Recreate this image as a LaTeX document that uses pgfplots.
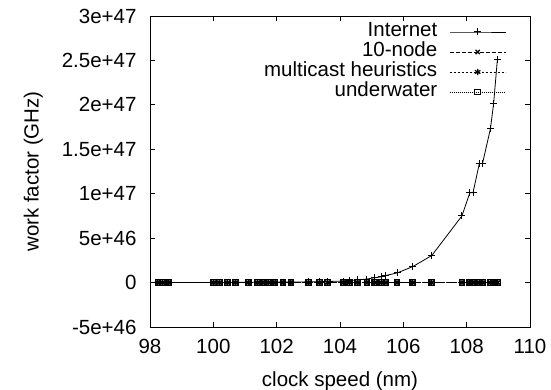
\documentclass[border=0pt]{standalone}
\usepackage{pgfplots}
\pgfplotsset{compat=1.18}
\usepackage{pgfplotstable}
\usepackage{fontspec}
\setmainfont{Liberation Sans}
\usetikzlibrary{calc}

\pgfplotstableread{
x y
98.25 1e43
98.4 1.2e43
98.6 1.5e43
100.0 1e44
100.2 1.2e44
100.45 1.5e44
100.7 2e44
101.1 2.5e44
101.4 3e44
101.6 3.5e44
101.75 4e44
101.95 4.5e44
102.2 5e44
102.45 6e44
103.0 8e44
103.35 1e45
103.6 1.2e45
104.1 1.7e45
104.3 2.2e45
104.55 3e45
104.85 4e45
105.1 5.5e45
105.3 6.4e45
105.45 8e45
105.8 1.08e46
106.3 1.8e46
106.9 3.05e46
107.85 7.5e46
108.1 1.01e47
108.2 1.01e47
108.4 1.34e47
108.5 1.34e47
108.75 1.73e47
108.85 2.01e47
108.97 2.51e47
}\internet

\pgfplotstableread{
x y
98.25 0
98.4 0
98.6 0
100.0 0
100.2 0
100.45 0
100.7 0
101.1 0
101.4 0
101.6 0
101.75 0
101.95 0
102.2 0
102.45 0
103.0 0
103.35 0
103.6 0
104.1 0
104.3 0
104.55 0
104.85 0
105.1 0
105.3 0
105.45 0
105.8 0
106.3 0
106.9 0
107.85 0
108.1 0
108.2 0
108.4 0
108.5 0
108.75 0
108.85 0
108.97 0
}\zeros

\begin{document}
\begin{tikzpicture}
\begin{axis}[
  scale only axis,
  width=380pt, height=311pt,
  font=\fontsize{20.5}{24}\selectfont,
  xmin=98, xmax=110,
  ymin=-5e46, ymax=3e47,
  xtick={98,100,102,104,106,108,110},
  xticklabels={98,100,102,104,106,108,110},
  ytick={-5e46,0,5e46,1e47,1.5e47,2e47,2.5e47,3e47},
  yticklabels={-5e+46,0,5e+46,1e+47,1.5e+47,2e+47,2.5e+47,3e+47},
  scaled y ticks=false,
  scaled x ticks=false,
  xtick pos=both, ytick pos=both,
  tick align=inside,
  major tick length=5pt,
  axis line style={line width=0.8pt},
  every tick/.style={line width=0.8pt, black},
  yticklabel style={xshift=-10pt},
  xticklabel style={yshift=-9pt},
  xlabel={clock speed (nm)},
  ylabel={work factor (GHz)},
  xlabel style={yshift=-11pt},
  ylabel style={yshift=12pt},
  legend plot pos=right,
  legend cell align=right,
  legend image code/.code={%
    \draw[mark repeat=2,mark phase=2,#1] plot coordinates {(0pt,0pt) (28pt,0pt) (56pt,0pt)};},
  legend style={draw=none, fill=none, at={(axis description cs:0.937,0.9775)}, anchor=north east,
    inner sep=0pt, outer sep=0pt,
    nodes={inner sep=0pt, text height=14pt, text depth=4pt},
    row sep=2pt, column sep=12pt,
    font=\fontsize{20.5}{24}\selectfont},
]
\addplot[black, line width=0.8pt, mark=+, mark size=3.5pt, mark options={solid, line width=1pt}] table {\internet};
\addlegendentry{Internet}
\addplot[black, line width=0.8pt, dash pattern=on 4pt off 2pt, mark=x, mark size=3pt, mark options={solid, line width=1.2pt}] table {\zeros};
\addlegendentry{10-node}
\addplot[black, line width=0.8pt, dash pattern=on 2pt off 2pt, mark=asterisk, mark size=3.2pt, mark options={solid, line width=1.2pt}] table {\zeros};
\addlegendentry{multicast heuristics}
\addplot[black, line width=0.6pt, dash pattern=on 1pt off 1pt, mark=square, mark size=2.8pt, mark options={solid, line width=1.2pt}] table {\zeros};
\addlegendentry{underwater}
\end{axis}
\pgfresetboundingbox
\useasboundingbox ($(current axis.south west)+(-150pt,-63pt)$) rectangle ($(current axis.north east)+(21pt,16pt)$);
\end{tikzpicture}
\end{document}
